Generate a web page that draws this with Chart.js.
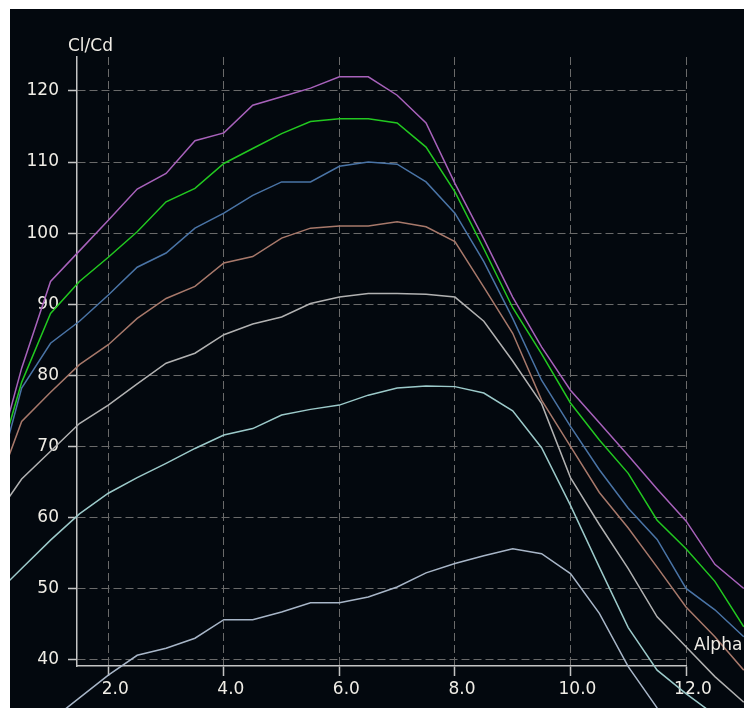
<!DOCTYPE html>
<html>
<head>
<meta charset="utf-8">
<title>Cl/Cd vs Alpha</title>
<script src="https://cdn.jsdelivr.net/npm/chart.js@4/dist/chart.umd.min.js"></script>
<style>
    html, body { margin: 0; padding: 0; background: #fff; }
    #panel {
        position: absolute; left: 10px; top: 9px;
        width: 734px; height: 699px;
        background: #03080e; overflow: hidden;
    }
</style>
</head>
<body>
<div id="panel"><canvas id="polarChart" width="734" height="699"></canvas></div>
<script>
// ==========================================
// Cl/Cd polars vs Alpha
// ==========================================

// angle of attack (deg)
const ALPHA = [0, 0.5, 1, 1.5, 2, 2.5, 3, 3.5, 4, 4.5, 5, 5.5, 6, 6.5,
               7, 7.5, 8, 8.5, 9, 9.5, 10, 10.5, 11, 11.5, 12, 12.5, 13];

// Cl/Cd per polar (top curve first)
const polarPurple = [66, 81, 93.2, 97.5, 101.8, 106.2, 108.4, 113.0, 114.1, 118.0, 119.2, 120.4, 122.0, 122.0,
                     119.4, 115.5, 107.0, 99.2, 91.0, 84.0, 77.9, 73.3, 68.7, 64.0, 59.5, 53.4, 50.0];
const polarGreen  = [65, 79, 88.7, 93.2, 96.6, 100.2, 104.4, 106.3, 109.8, 111.9, 114.0, 115.7, 116.1, 116.1,
                     115.5, 112.1, 105.8, 97.8, 89.5, 83.0, 76.1, 70.9, 66.2, 59.6, 55.6, 51.0, 44.6];
const polarBlue   = [63, 78.2, 84.5, 87.6, 91.3, 95.2, 97.2, 100.7, 102.8, 105.3, 107.2, 107.2, 109.4, 110.0,
                     109.7, 107.2, 102.8, 96.0, 88.0, 79.3, 72.8, 66.7, 61.3, 56.9, 50.0, 47.0, 43.2];
const polarBrown  = [62.5, 73.5, 77.6, 81.5, 84.3, 88.0, 90.8, 92.5, 95.8, 96.7, 99.3, 100.7, 101.0, 101.0,
                     101.6, 100.9, 98.8, 92.4, 85.9, 76.5, 70.0, 63.5, 58.5, 53.0, 47.4, 43.2, 38.5];
const polarGray   = [59.5, 65.4, 69.3, 73.2, 75.8, 78.8, 81.7, 83.1, 85.7, 87.2, 88.2, 90.1, 91.0, 91.5,
                     91.5, 91.4, 91.0, 87.6, 82.0, 76.0, 65.6, 59.0, 52.8, 46.0, 41.8, 37.6, 34.0];
const polarCyan   = [48.8, 52.8, 56.8, 60.5, 63.4, 65.6, 67.6, 69.7, 71.6, 72.5, 74.4, 75.2, 75.8, 77.2,
                     78.2, 78.5, 78.4, 77.5, 75.0, 69.8, 61.7, 53.0, 44.5, 38.5, 35.2, 32.2, 30.0];
const polarSlate  = [23, 27, 31.4, 34.6, 37.8, 40.6, 41.6, 43.0, 45.6, 45.6, 46.7, 48.0, 48.0, 48.8,
                     50.2, 52.2, 53.5, 54.6, 55.6, 54.9, 52.1, 46.5, 39.0, 33.2, 28.0, 24.0, 21.0];

// tick labels
const X_TICKS = [2, 4, 6, 8, 10, 12];
const Y_TICKS = [40, 50, 60, 70, 80, 90, 100, 110, 120];
const X_TITLE = 'Alpha';
const Y_TITLE = 'Cl/Cd';

// visible window of the axes box
const X_MIN = 1.458, X_MAX = 12;
const Y_MIN = 39.09, Y_MAX = 124.78;

const TEXT  = '#f0ede6';
const AXIS  = '#c4c4c4';
const GRID  = '#6a6a6a';
const FONT  = { family: '"DejaVu Sans", sans-serif', size: 17 };

const POLARS = [
    { name: 'purple', values: polarPurple, color: '#a862bb' },
    { name: 'green',  values: polarGreen,  color: '#22c820' },
    { name: 'blue',   values: polarBlue,   color: '#4a74a6' },
    { name: 'brown',  values: polarBrown,  color: '#a8796b' },
    { name: 'gray',   values: polarGray,   color: '#b2b2b2' },
    { name: 'cyan',   values: polarCyan,   color: '#9ccaca' },
    { name: 'slate',  values: polarSlate,  color: '#a8b6c8' },
];

// axis titles sit at the ends of the axes, not beside them
const axisTitles = {
    id: 'axisTitles',
    afterDraw(chart) {
        const { ctx, chartArea } = chart;
        ctx.save();
        ctx.font = `${FONT.size}px ${FONT.family}`;
        ctx.fillStyle = TEXT;
        ctx.textAlign = 'left';
        ctx.textBaseline = 'alphabetic';
        ctx.fillText(Y_TITLE, chartArea.left - 9, chartArea.top - 6);
        ctx.fillText(X_TITLE, chartArea.right + 8, chartArea.bottom - 16);
        ctx.restore();
    },
};

function renderPolarChart() {
    const ctx = document.getElementById('polarChart').getContext('2d');
    new Chart(ctx, {
        type: 'line',
        data: {
            datasets: POLARS.map(p => ({
                label: p.name,
                data: ALPHA.map((a, i) => ({ x: a, y: p.values[i] })),
                borderColor: p.color,
                borderWidth: 1.5,
                pointRadius: 0,
                tension: 0,
                fill: false,
                clip: false,
            })),
        },
        options: {
            responsive: false,
            animation: false,
            devicePixelRatio: 1,
            layout: { autoPadding: false, padding: { top: 48, right: 58, left: 0, bottom: 0 } },
            plugins: { legend: { display: false }, tooltip: { enabled: false } },
            scales: {
                x: {
                    type: 'linear',
                    bounds: 'data',
                    // set the range here (not min/max) so off-box points still get drawn
                    afterDataLimits: s => { s.min = X_MIN; s.max = X_MAX; },
                    afterBuildTicks: s => { s.ticks = X_TICKS.map(v => ({ value: v })); },
                    afterFit: s => { s.height = 42; },
                    grid: { color: GRID, lineWidth: 1, tickLength: 10, tickColor: AXIS, tickWidth: 1.5 },
                    border: { color: AXIS, width: 1.5, dash: [8, 4] },
                    ticks: {
                        color: TEXT, font: FONT, padding: 3, labelOffset: 7,
                        maxRotation: 0, autoSkip: false,
                        callback: v => Number(v).toFixed(1),
                    },
                },
                y: {
                    type: 'linear',
                    min: Y_MIN, max: Y_MAX,
                    afterBuildTicks: s => { s.ticks = Y_TICKS.map(v => ({ value: v })); },
                    afterFit: s => { s.width = 67; },
                    grid: { color: GRID, lineWidth: 1, tickLength: 9, tickColor: AXIS, tickWidth: 1.5 },
                    border: { color: AXIS, width: 1.5, dash: [8, 4] },
                    ticks: { color: TEXT, font: FONT, padding: 9, autoSkip: false },
                },
            },
        },
        plugins: [axisTitles],
    });
}

document.addEventListener('DOMContentLoaded', renderPolarChart);
</script>
</body>
</html>
